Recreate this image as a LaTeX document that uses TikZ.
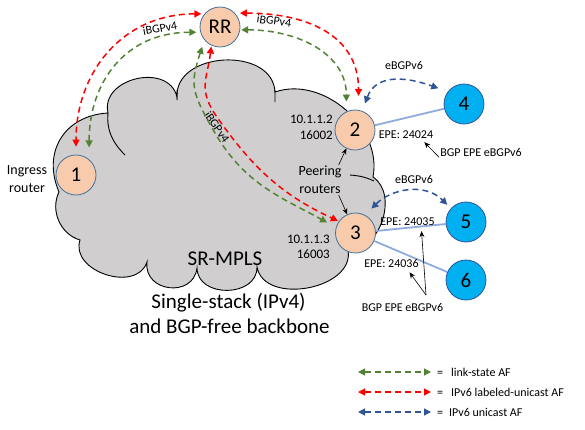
\documentclass[tikz,border=0pt]{standalone}
\usepackage{fontspec}
\setmainfont{Carlito}
\usetikzlibrary{arrows.meta,calc}

\definecolor{lsgreen}{RGB}{84,130,53}
\definecolor{lured}{RGB}{255,0,0}
\definecolor{ucblue}{RGB}{47,85,151}
\definecolor{peach}{RGB}{248,203,173}
\definecolor{ringblue}{RGB}{65,113,156}
\definecolor{skyfill}{RGB}{0,176,240}
\definecolor{cloudgray}{RGB}{208,206,206}
\definecolor{linkblue}{RGB}{143,170,220}

\begin{document}
\begin{tikzpicture}[x=1pt,y=1pt,
  router/.style={circle,draw=ringblue,line width=0.8pt,fill=peach,minimum size=40pt,inner sep=0pt,font=\fontsize{21}{24}\selectfont},
  extrouter/.style={router,fill=skyfill,draw=ucblue},
  af/.style={line width=1.5pt,dash pattern=on 6pt off 4pt,{Triangle[length=7pt,width=7pt]}-{Triangle[length=7pt,width=7pt]}},
  lsaf/.style={af,lsgreen}, luaf/.style={af,lured}, ucaf/.style={af,ucblue},
  link/.style={linkblue,line width=1.8pt},
  txt/.style={inner sep=1pt,font=\fontsize{12}{15}\selectfont},
  note/.style={-{Stealth[length=6pt,width=5pt]},line width=0.6pt}]
\useasboundingbox (0,0) rectangle (585,-429);
% backbone cloud
\filldraw[fill=cloudgray,line width=0.9pt]
  (59,-192) to[bend left=55,looseness=1.2] (108,-113)
  to[bend left=90,looseness=1.3] (177,-97)
  to[bend left=90,looseness=1.2] (275,-92)
  to[bend left=60] (373,-177)
  to[bend left=75,looseness=1.05] (348,-250)
  to[bend left=90,looseness=1.1] (257,-267)
  to[bend left=90,looseness=1.3] (197,-268)
  to[bend left=90,looseness=1.55] (147,-262)
  to[bend left=90,looseness=1.2] (80,-240)
  to[bend left=50] (59,-192) -- cycle;
\draw[line width=0.9pt] (108,-113) to[out=-95,in=135] (125,-155)
  (177,-90) -- (177,-100) (275,-90) -- (275,-102)
  (350,-175) to[out=-5,in=155] (374,-181);

\node[router] (RR) at (220,-27) {RR};
\node[router] (n1) at (76,-175) {1};
\node[router] (n2) at (355,-130) {2};
\node[router] (n3) at (355.5,-233) {3};
\node[extrouter] (n4) at (464,-104) {4};
\node[extrouter] (n5) at (466,-222) {5};
\node[extrouter] (n6) at (466,-280) {6};
\draw[link] (n2) -- (n4);
\draw[link] (n3) -- (n5);
\draw[link] (n3) -- (n6);

\node[txt,font=\fontsize{14}{18}\selectfont,align=center] (ingress) at (27,-179) {Ingress\\router};
\node[txt,font=\fontsize{13}{16}\selectfont,align=right,anchor=east] (addr2) at (334,-127) {10.1.1.2\\16002};
\node[txt,font=\fontsize{13}{15}\selectfont,align=right,anchor=east] (addr3) at (331,-246.5) {10.1.1.3\\16003};
\node[txt,font=\fontsize{14}{18}\selectfont,align=center] (peer) at (320,-180) {Peering\\routers};
\draw[note] ([xshift=-4pt]peer.north east) -- (n2);
\draw[note] ([xshift=-4pt]peer.south east) -- (n3);
\node[txt,font=\fontsize{21}{24}\selectfont] (srmpls) at (225,-259) {SR-MPLS};
\node[txt,font=\fontsize{21}{24}\selectfont,anchor=base] (stack1) at (228.5,-308) {Single-stack (IPv4)};
\node[txt,font=\fontsize{21}{24}\selectfont,anchor=base] (stack2) at (229.5,-333) {and BGP-free backbone};

\node[txt] (ebgp1) at (404,-65) {eBGPv6};
\node[txt] (ebgp2) at (414,-179) {eBGPv6};
\node[txt] (epe24) at (406,-135) {EPE: 24024};
\node[txt] (epe35) at (407.5,-222) {EPE: 24035};
\node[txt] (epe36) at (391.5,-263) {EPE: 24036};
\node[txt] (bgp1) at (481,-152) {BGP EPE eBGPv6};
\node[txt] (bgp2) at (402.5,-307) {BGP EPE eBGPv6};
\coordinate (fork) at (426,-295);
\draw[note] (bgp1.south west) -- ([xshift=-10pt,yshift=-2pt]epe24.south east);
\draw[note] (fork) -- ([xshift=14pt,yshift=-4pt]epe35.south);
\draw[note] (fork) -- ([xshift=18pt,yshift=-4pt]epe36.south);

\node[txt,rotate=10] (ib1) at (160,-28) {iBGPv4};
\node[txt,rotate=-8] (ib2) at (274,-21) {iBGPv4};
\node[txt,rotate=-55] (ib3) at (217,-127) {iBGPv4};

\coordinate (bendlu) at (216.7,-116.7);
\coordinate (bendls) at (215,-133);
\draw[luaf,shorten <=3pt,shorten >=8pt] (RR.140) to[out=180,in=90,looseness=1.1] (n1.north);
\draw[lsaf,shorten <=4pt,shorten >=12pt] (RR.195) to[out=180,in=90,looseness=1.15] (n1.50);
\draw[luaf,shorten <=5pt,shorten >=14pt] (RR.43) to[out=0,in=90,looseness=1.2] (n2.80);
\draw[lsaf,shorten <=1pt,shorten >=10pt] (RR.-8) to[out=0,in=90,looseness=1.1] (n2.115);
\draw[luaf,shorten <=1pt,shorten >=1pt] (RR.-115) to[out=-97,in=125,looseness=1.2] (bendlu) to[out=-55,in=155] (n3.145);
\draw[lsaf,shorten <=7pt,shorten >=10pt] (RR.-140) to[out=-108,in=120,looseness=1.3] (bendls) to[out=-60,in=151] (n3.164);
\draw[ucaf,shorten <=8pt,shorten >=10pt] (n2.69) to[out=70,in=160,looseness=1.2] (n4.143);
\draw[ucaf,shorten <=9pt,shorten >=5pt] (n3.62) to[out=45,in=135,looseness=1.1] (n5.138);

% legend
\coordinate (lsa) at (358,-372); \coordinate (lsb) at (431,-372);
\coordinate (lua) at (358,-392); \coordinate (lub) at (431,-392);
\coordinate (uca) at (358,-412); \coordinate (ucb) at (431,-412);
\draw[lsaf,line width=1.2pt] (lsa) -- (lsb);
\draw[luaf,line width=1.2pt] (lua) -- (lub);
\draw[ucaf,line width=1.2pt] (uca) -- (ucb);
\node[txt,anchor=west] (lskey) at (436,-372) {=\hspace{8pt}link-state AF};
\node[txt,anchor=west] (lukey) at (436,-392) {=\hspace{8pt}IPv6 labeled-unicast AF};
\node[txt,anchor=west] (uckey) at (436,-412) {=\hspace{6pt}IPv6 unicast AF};
\end{tikzpicture}
\end{document}
